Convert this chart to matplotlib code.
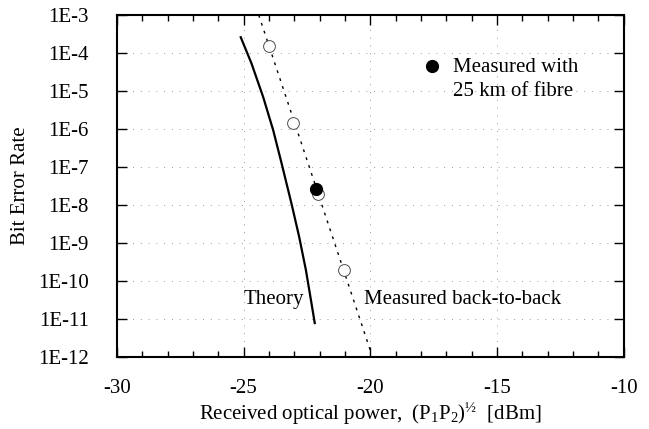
import matplotlib
matplotlib.use("Agg")
import matplotlib.pyplot as plt
import numpy as np
from matplotlib.ticker import FixedLocator, MultipleLocator, FuncFormatter

plt.rcParams['font.family'] = ['Liberation Serif', 'DejaVu Serif']
plt.rcParams['mathtext.fontset'] = 'custom'
plt.rcParams['mathtext.rm'] = 'Liberation Serif'
plt.rcParams['mathtext.it'] = 'Liberation Serif:italic'
plt.rcParams['axes.unicode_minus'] = False

# Theory curve
theory_x = [-25.11, -24.69, -24.23, -23.83, -23.50, -23.11, -22.81, -22.54, -22.32, -22.19]
theory_y = [2.6e-4, 5.4e-5, 7.1e-6, 9.3e-7, 1.26e-7, 1.1e-8, 1.5e-9, 1.95e-10, 2.6e-11, 7.8e-12]

# Measured back-to-back (fitted line + points)
fit_x = [-24.4, -20.0]
fit_y = [1e-3, 1.5e-12]
b2b_x = [-24.0, -23.05, -22.05, -21.05]
b2b_y = [1.5e-4, 1.4e-6, 1.9e-8, 2.0e-10]

# Measured with 25 km of fibre
fibre_x = [-22.15]
fibre_y = [2.6e-8]

fig = plt.figure(figsize=(6.49, 4.29), dpi=100)
ax = fig.add_axes([0.180, 0.168, 0.781, 0.797])

ax.set_yscale('log')
ax.set_xlim(-30, -10)
ax.set_ylim(1e-12, 1e-3)

# sparse dotted grid
for d in range(-11, -3):
    ax.axhline(10.0 ** d, color='0.6', lw=0.7, ls=(0, (1, 7)), zorder=0)
for v in [-25, -20, -15]:
    ax.axvline(v, color='0.6', lw=0.7, ls=(0, (1, 7)), zorder=0)

ax.plot(theory_x, theory_y, color='black', lw=1.6)
ax.plot(fit_x, fit_y, color='black', lw=1.0, ls=(0, (2, 4)))
ax.plot(b2b_x, b2b_y, 'o', ms=8.5, mfc='white', mec='0.3', mew=0.7)
ax.plot(fibre_x, fibre_y, 'o', ms=8.5, color='black')

# legend-style annotation
ax.plot([-17.57], [4.5e-5], 'o', ms=8.5, color='black')
ax.text(-16.75, 4.2e-5, 'Measured with', fontsize=15, va='center', ha='left')
ax.text(-16.75, 9.5e-6, '25 km of fibre', fontsize=15, va='center', ha='left')

ax.text(-22.6, 3.2e-11, 'Theory', fontsize=15, ha='right', va='center')
ax.text(-20.25, 3.2e-11, 'Measured back-to-back', fontsize=15, ha='left', va='center')

ax.yaxis.set_major_locator(FixedLocator([10.0 ** d for d in range(-12, -2)]))
ax.yaxis.set_minor_locator(FixedLocator([]))
ax.yaxis.set_major_formatter(FuncFormatter(lambda v, p: '1E%d' % int(round(np.log10(v)))))
ax.xaxis.set_major_locator(MultipleLocator(5))
ax.xaxis.set_minor_locator(MultipleLocator(1))

ax.tick_params(which='both', direction='in', top=True, right=True, labelsize=15)
ax.tick_params(axis='y', pad=20)
ax.tick_params(axis='x', pad=16)
ax.tick_params(which='major', length=7, width=1)
ax.tick_params(which='minor', length=4, width=1)

for s in ax.spines.values():
    s.set_linewidth(1.5)

ax.set_ylabel('Bit Error Rate', fontsize=15, labelpad=6)
ax.set_xlabel('Received optical power,  (P$_1$P$_2$)$^{\\mathrm{½}}$  [dBm]', fontsize=15, labelpad=2)

fig.savefig('out.png', dpi=100)
